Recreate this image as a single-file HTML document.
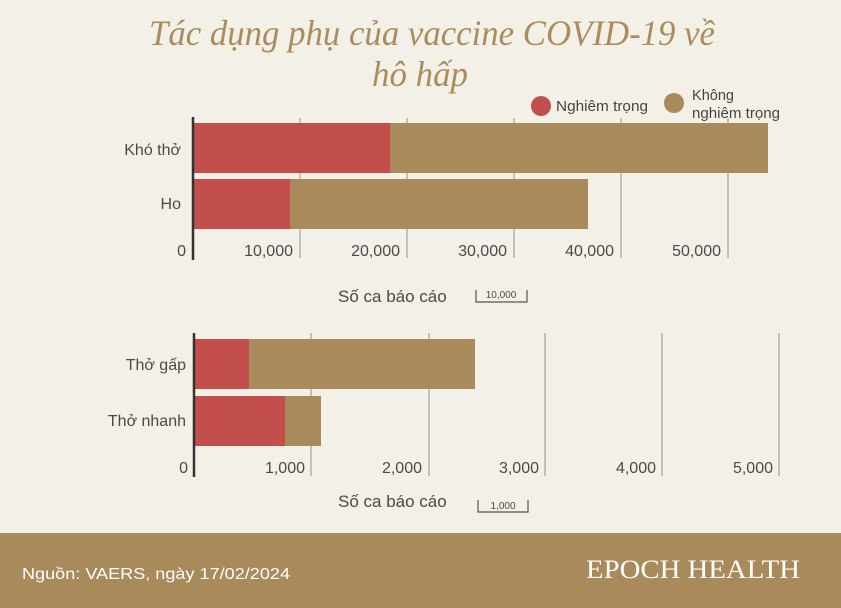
<!DOCTYPE html>
<html><head><meta charset="utf-8"><style>
html,body{margin:0;padding:0;background:#f3f0e8;}
svg{display:block;}
</style></head><body>
<svg width="841" height="608" viewBox="0 0 841 608" xmlns="http://www.w3.org/2000/svg">
<rect width="841" height="608" fill="#f3f0e8"/>
<g font-family="Liberation Serif, serif" font-style="italic" fill="#ab8c5c" font-size="36" text-anchor="middle">
<text x="432" y="45" textLength="566" lengthAdjust="spacingAndGlyphs">Tác dụng phụ của vaccine COVID-19 về</text>
<text x="420" y="86" textLength="96" lengthAdjust="spacingAndGlyphs">hô hấp</text>
</g>
<g font-family="Liberation Sans, sans-serif" font-size="15" fill="#444">
<circle cx="541" cy="106" r="10" fill="#c24f4b"/>
<text x="556" y="111" textLength="92" lengthAdjust="spacingAndGlyphs">Nghiêm trọng</text>
<circle cx="674" cy="103" r="10" fill="#a98a5b"/>
<text x="692" y="100" textLength="42" lengthAdjust="spacingAndGlyphs">Không</text>
<text x="692" y="118" textLength="88" lengthAdjust="spacingAndGlyphs">nghiêm trọng</text>
</g>
<g stroke="#a89f97" stroke-width="1.2">
<line x1="300" y1="118" x2="300" y2="258"/><line x1="407" y1="118" x2="407" y2="258"/>
<line x1="514" y1="118" x2="514" y2="258"/><line x1="621" y1="118" x2="621" y2="258"/>
<line x1="728" y1="118" x2="728" y2="258"/>
</g>
<rect x="193" y="123" width="197" height="50" fill="#c24f4b"/>
<rect x="390" y="123" width="378" height="50" fill="#a98a5b"/>
<rect x="193" y="179" width="97" height="50" fill="#c24f4b"/>
<rect x="290" y="179" width="298" height="50" fill="#a98a5b"/>
<line x1="193" y1="117" x2="193" y2="260" stroke="#333" stroke-width="2.5"/>
<g font-family="Liberation Sans, sans-serif" font-size="16" fill="#4a4a4a">
<text x="181" y="155" text-anchor="end">Khó thở</text>
<text x="181" y="209" text-anchor="end">Ho</text>
<g text-anchor="end">
<text x="186" y="256">0</text><text x="293" y="256">10,000</text><text x="400" y="256">20,000</text>
<text x="507" y="256">30,000</text><text x="614" y="256">40,000</text><text x="721" y="256">50,000</text>
</g>
<text x="338" y="302" font-size="17">Số ca báo cáo</text>
<text x="501" y="298" font-size="10" text-anchor="middle">10,000</text>
</g>
<path d="M476 290 V302 H527 V290" fill="none" stroke="#555" stroke-width="1.2"/>
<g stroke="#a89f97" stroke-width="1.2">
<line x1="311" y1="333" x2="311" y2="476"/><line x1="429" y1="333" x2="429" y2="476"/>
<line x1="545" y1="333" x2="545" y2="476"/><line x1="662" y1="333" x2="662" y2="476"/>
<line x1="779" y1="333" x2="779" y2="476"/>
</g>
<rect x="195" y="339" width="54" height="50" fill="#c24f4b"/>
<rect x="249" y="339" width="226" height="50" fill="#a98a5b"/>
<rect x="195" y="396" width="90" height="50" fill="#c24f4b"/>
<rect x="285" y="396" width="36" height="50" fill="#a98a5b"/>
<line x1="194" y1="333" x2="194" y2="477" stroke="#333" stroke-width="2.5"/>
<g font-family="Liberation Sans, sans-serif" font-size="16" fill="#4a4a4a">
<text x="186" y="370" text-anchor="end">Thở gấp</text>
<text x="186" y="426" text-anchor="end">Thở nhanh</text>
<g text-anchor="end">
<text x="188" y="473">0</text><text x="305" y="473">1,000</text><text x="422" y="473">2,000</text>
<text x="539" y="473">3,000</text><text x="656" y="473">4,000</text><text x="773" y="473">5,000</text>
</g>
<text x="338" y="507" font-size="17">Số ca báo cáo</text>
<text x="503" y="509" font-size="10" text-anchor="middle">1,000</text>
</g>
<path d="M478 500 V512 H528 V500" fill="none" stroke="#555" stroke-width="1.2"/>
<rect x="0" y="533" width="841" height="75" fill="#a98a5b"/>
<text x="22" y="579" font-family="Liberation Sans, sans-serif" font-size="16" fill="#fff" textLength="268" lengthAdjust="spacingAndGlyphs">Nguồn: VAERS, ngày 17/02/2024</text>
<text x="800" y="578" text-anchor="end" font-family="Liberation Serif, serif" font-size="26" fill="#fff" textLength="214" lengthAdjust="spacingAndGlyphs">EPOCH HEALTH</text>
</svg>
</body></html>
